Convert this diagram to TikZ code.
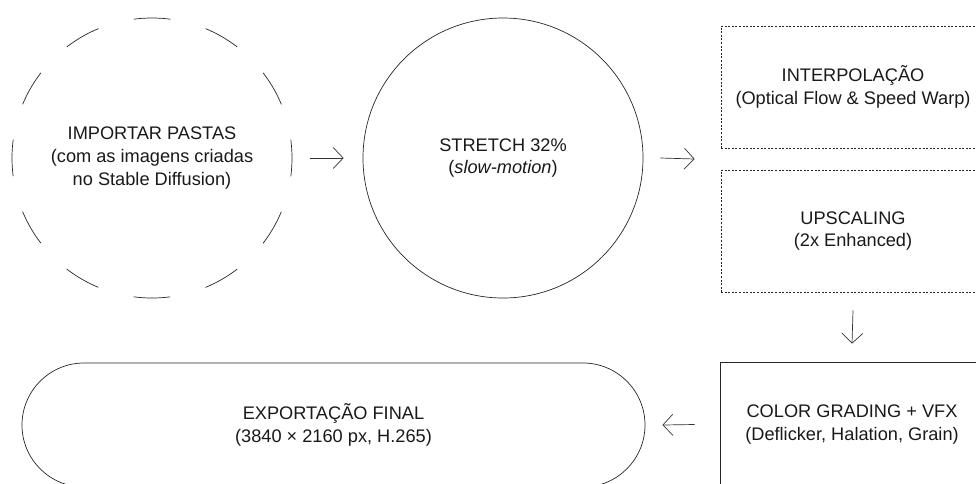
\documentclass[tikz,border=0pt]{standalone}
\usepackage{fontspec}
\setmainfont{Liberation Sans}
\usepackage{tikz}
\usetikzlibrary{arrows.meta, calc}

\tikzset{
    etapa/.style={align=center, text=black!90, line width=0.7pt, draw=black!85,
        font=\fontsize{18.2}{22.8}\selectfont},
    seta/.style={-{Straight Barb[length=10pt, width=21pt]}, line width=0.7pt, black!80},
}

\begin{document}
\begin{tikzpicture}[x=1pt, y=-1pt]
    \path[use as bounding box, clip] (0,0) rectangle (976,483);

    % Etapas
    \node[etapa, circle, minimum size=280pt, dash pattern=on 36.65pt off 36.65pt, dash phase=18.33pt]
        (importar) at (152,158) {IMPORTAR PASTAS\\(com as imagens criadas\\no Stable Diffusion)};
    \node[etapa, circle, minimum size=280pt] (stretch) at (503,158) {STRETCH 32\%\\(\textit{slow-motion})};
    \node[etapa, dash pattern=on 2pt off 1.6pt, minimum width=264pt, minimum height=122pt]
        (interp) at (853,87) {INTERPOLAÇÃO\\(Optical Flow \& Speed Warp)};
    \node[etapa, dash pattern=on 2pt off 1.6pt, minimum width=264pt, minimum height=122pt]
        (upscale) at (853,231) {UPSCALING\\(2x Enhanced)};
    \node[etapa, minimum width=264pt, minimum height=125pt] (color) at (852,424.5)
        {COLOR GRADING + VFX\\(Deflicker, Halation, Grain)};
    \node[etapa, minimum width=623pt, minimum height=124pt, rounded corners=62pt]
        (final) at (333.5,425) {EXPORTAÇÃO FINAL\\(3840 × 2160 px, H.265)};

    % Setas
    \coordinate (meio) at ($(interp.south west)!0.5!(upscale.north west)$);
    \draw[seta] ([xshift=18pt]importar.east) -- ([xshift=-19pt]stretch.west);
    \draw[seta] ([xshift=17pt]stretch.east) -- ([xshift=-26pt]meio);
    \draw[seta] ([yshift=-18pt]upscale.south) -- ([yshift=18pt]color.north);
    \draw[seta] ([xshift=-25pt]color.west) -- ([xshift=17pt]final.east);
\end{tikzpicture}
\end{document}
